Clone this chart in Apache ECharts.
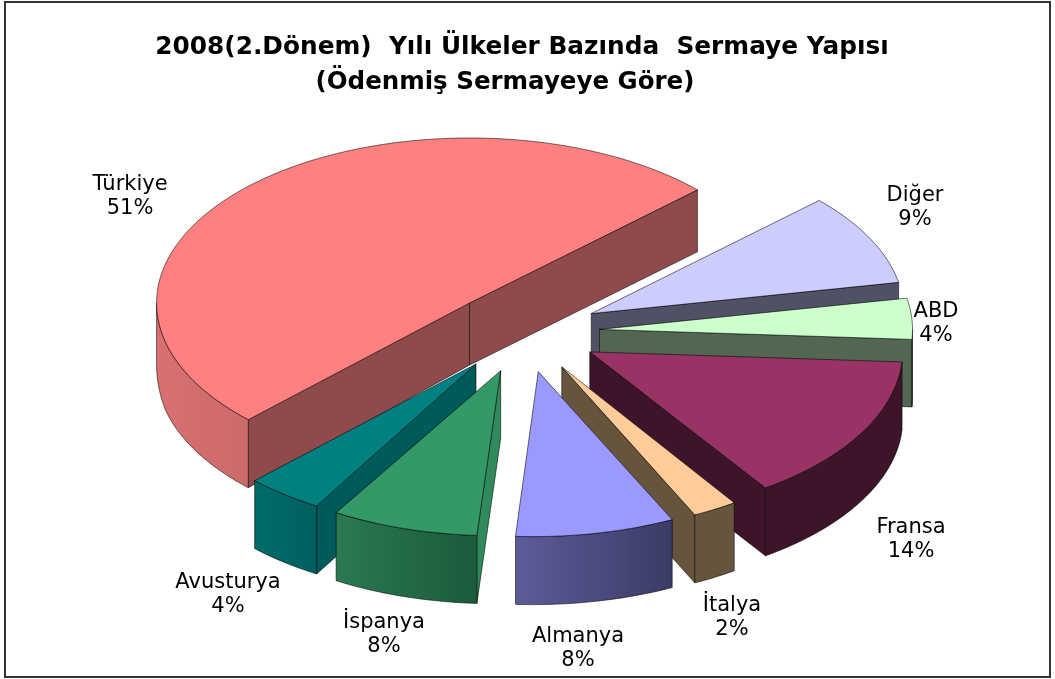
<!DOCTYPE html>
<html>
<head>
<meta charset="utf-8">
<style>html,body{margin:0;padding:0;background:#fff}#c{width:1055px;height:679px}</style>
<script src="https://cdn.jsdelivr.net/npm/echarts@6/dist/echarts.min.js"></script>
</head>
<body>
<div id="c"></div>
<script>
// Clockwise slice order, starting from Türkiye
var categories = ['Türkiye','Diğer','ABD','Fransa','İtalya','Almanya','İspanya','Avusturya'];
var shares = [50.5, 9.0, 4.0, 14.45, 2.3, 8.2, 7.6, 4.0];
var titleLines = ['2008(2.Dönem)  Yılı Ülkeler Bazında  Sermaye Yapısı', '(Ödenmiş Sermayeye Göre)'];

// Styles
var topColors  = ['#ff8080','#ccccff','#ccffcc','#993366','#ffcc99','#9999ff','#339966','#008080'];
var cutColors  = ['#8f4b4b','#515166','#526652','#3d1429','#66553c','#5a5a96','#2f8a5c','#005a5a'];
var sideLeft   = ['#d97070','#515166','#526652','#3d1429','#66553c','#5c5c99','#2a7a50','#006b6b'];
var sideRight  = ['#cc6a6a','#515166','#526652','#3d1429','#66553c','#3b3b66','#1b5a3b','#005f5f'];
var paintOrder = [0,1,2,3,4,5,7,6];

// Layout
var centre = [523, 332], radiusX = 313, radiusY = 165, explode = 0.245, firstAngle = -135;
var nearLean = [0, 0, 0, 2, 6, 5, 6, 0];   // perspective lean of the near rim
var labelAt = [[130,197],[915,208],[936,324],[911,540],[732,618],[578,649],[384,635],[228,595]];

var total = shares.reduce(function (a, b) { return a + b; }, 0);
var starts = [], acc = firstAngle;
shares.forEach(function (v) { starts.push(acc); acc += v / total * 360; });

function depth(y) { return Math.max(62, Math.min(68, 62 + (y - 305) * 0.16)); }

function renderSlice(params, api) {
  var i = api.value(0);
  var a0 = starts[i], a1 = a0 + shares[i] / total * 360, mid = (a0 + a1) / 2;
  var rad = Math.PI / 180;
  var apex = [centre[0] + Math.sin(mid * rad) * radiusX * explode,
              centre[1] - Math.cos(mid * rad) * radiusY * explode];
  function rim(a) {
    var c = Math.cos(a * rad);
    return [apex[0] + Math.sin(a * rad) * radiusX - nearLean[i] * Math.max(0, -c),
            apex[1] - c * radiusY];
  }
  function low(p) { return [p[0], p[1] + depth(p[1])]; }
  function px(pts) { return pts.map(function (p) { return api.coord(p); }); }
  var edge = { stroke: 'rgba(0,0,0,0.55)', lineWidth: 1, lineJoin: 'round' };
  function poly(pts, fill) {
    return { type: 'polygon', shape: { points: px(pts) },
             style: Object.assign({ fill: fill }, edge) };
  }
  var kids = [];
  // radial cut faces that look towards the viewer
  function cut(a) {
    var r = rim(a);
    kids.push(poly([apex, r, low(r), low(apex)], cutColors[i]));
  }
  if (Math.sin(a0 * rad) < 0) cut(a0);
  if (Math.sin(a1 * rad) > 0) cut(a1);
  // visible part of the outer wall (front half of the ellipse)
  function wall(s, e) {
    if (e <= s) return;
    var up = [], n = Math.ceil(e - s);
    for (var k = 0; k <= n; k++) up.push(rim(s + (e - s) * k / n));
    var down = up.map(low).reverse();
    kids.push(poly(up.concat(down), {
      type: 'linear', x: 0, y: 0, x2: 1, y2: 0,
      colorStops: [{ offset: 0, color: sideLeft[i] }, { offset: 1, color: sideRight[i] }]
    }));
  }
  wall(Math.max(a0, 90), Math.min(a1, 270));
  wall(Math.max(a0 + 360, 90), Math.min(a1 + 360, 270));
  // top face
  var top = [apex], n = Math.ceil(a1 - a0);
  for (var k = 0; k <= n; k++) top.push(rim(a0 + (a1 - a0) * k / n));
  kids.push(poly(top, topColors[i]));
  return { type: 'group', children: kids };
}

function renderLabel(params, api) {
  var i = api.value(0);
  var p = api.coord(labelAt[i]);
  return {
    type: 'text',
    style: {
      x: p[0], y: p[1], text: categories[i] + '\n' + Math.round(shares[i]) + '%',
      fill: '#000', font: '21px "DejaVu Sans"', lineHeight: 24,
      align: 'center', verticalAlign: 'middle'
    }
  };
}

var titleFirst = { fontFamily: 'DejaVu Sans', fontWeight: 'bold', fontSize: 24.8, color: '#000' };
var titleSecond = { fontFamily: 'DejaVu Sans', fontWeight: 'bold', fontSize: 24.5, color: '#000' };
var chart = echarts.init(document.getElementById('c'), null, { renderer: 'canvas' });
chart.setOption({
  animation: false,
  backgroundColor: '#ffffff',
  title: [
    { text: titleLines[0], left: 517, top: 30, textAlign: 'center', textStyle: titleFirst },
    { text: titleLines[1], left: 500, top: 65, textAlign: 'center', textStyle: titleSecond }
  ],
  graphic: [{
    type: 'rect', shape: { x: 5, y: 2, width: 1045, height: 675 },
    style: { fill: 'none', stroke: '#333', lineWidth: 2 }, silent: true
  }],
  grid: { left: 0, right: 0, top: 0, bottom: 0 },
  xAxis: { type: 'value', min: 0, max: 1055, show: false },
  yAxis: { type: 'value', min: 0, max: 679, inverse: true, show: false },
  tooltip: { show: false },
  series: [
    { type: 'custom', clip: false, renderItem: renderSlice, silent: true,
      data: paintOrder.map(function (i) { return [i]; }) },
    { type: 'custom', clip: false, renderItem: renderLabel, silent: true, z: 5,
      data: categories.map(function (c, i) { return [i]; }) }
  ]
});
</script>
</body>
</html>
